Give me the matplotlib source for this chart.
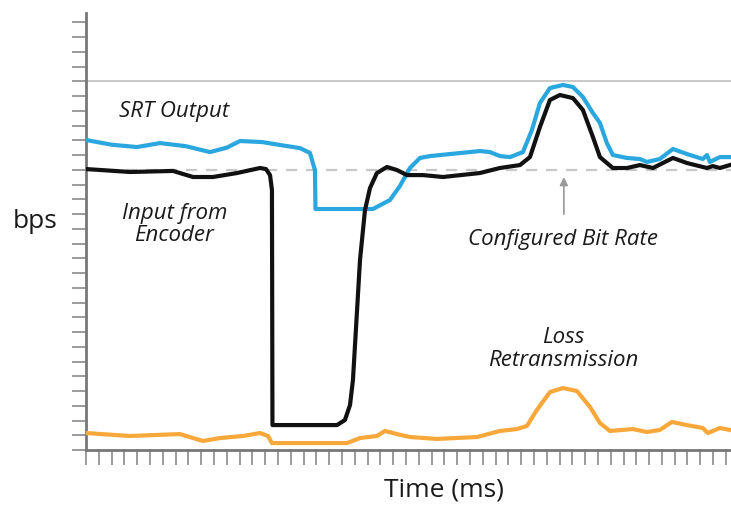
import matplotlib
matplotlib.use("Agg")
import matplotlib.pyplot as plt

plt.rcParams['font.family'] = ['Open Sans', 'DejaVu Sans']

# time axis (tick units) and bit rates (tick units)
srt_x = [0, 2.0, 3.98, 5.78, 7.8, 9.69, 11.0, 12.03, 13.75, 15.16, 16.72, 17.5, 17.89, 17.93,
         22.42, 23.75, 24.53, 25.31, 26.09, 26.88, 30.78, 31.56, 32.34, 33.13, 34.14, 34.84,
         35.47, 36.25, 37.27, 38.05, 38.83, 39.61, 40.16, 40.70, 41.17, 42.27, 43.28,
         43.83, 44.84, 45.86, 46.95, 48.2, 48.52, 48.75, 49.53, 50.31]
srt_y = [21.02, 20.7, 20.54, 20.81, 20.6, 20.20, 20.5, 20.95, 20.88, 20.68, 20.47, 20.14, 18.98,
         16.34, 16.34, 16.95, 17.90, 19.12, 19.80, 19.93, 20.27, 20.20, 19.93, 19.86, 20.20,
         21.69, 23.53, 24.54, 24.75, 24.61, 23.93, 22.85, 22.17, 20.81, 20.0, 19.80, 19.73,
         19.53, 19.73, 20.41, 20.07, 19.73, 20.0, 19.53, 19.86, 19.86]

enc_x = [0, 3.44, 6.8, 8.36, 9.92, 11.8, 13.59, 14.06, 14.38, 14.53, 14.57, 19.61,
         20.23, 20.63, 20.86, 21.41, 21.8, 22.19, 22.73, 23.52, 24.3, 25.08, 26.33,
         27.89, 30.78, 32.34, 33.91, 34.69, 35.47, 36.25, 37.03, 38.05, 38.83, 39.61,
         40.16, 40.70, 41.17, 42.27, 43.28, 44.3, 45.86, 46.95, 48.52, 48.98, 49.53, 50.31]
enc_y = [19.05, 18.85, 18.92, 18.51, 18.51, 18.78, 19.12, 19.05, 18.64, 17.63, 1.69, 1.69,
         2.03, 3.05, 4.75, 12.88, 16.27, 17.76, 18.78, 19.19, 18.98, 18.64, 18.64,
         18.51, 18.78, 19.12, 19.32, 19.86, 21.90, 23.73, 24.07, 23.86, 23.05, 21.22,
         19.86, 19.46, 19.12, 19.12, 19.32, 19.12, 19.80, 19.46, 19.12, 19.25, 19.12, 19.32]

loss_x = [0, 3.44, 7.34, 9.14, 10.47, 12.27, 13.59, 14.22, 14.53, 20.39, 21.41, 22.73,
          23.36, 24.30, 25.31, 27.42, 30.55, 32.34, 33.67, 34.45, 35.23, 36.25, 37.27,
          38.36, 39.38, 40.16, 40.94, 42.73, 43.83, 44.84, 45.78, 46.95, 48.2, 48.59,
          49.53, 50.31]
loss_y = [1.15, 0.95, 1.08, 0.61, 0.81, 0.95, 1.15, 0.95, 0.47, 0.47, 0.81, 0.95,
          1.29, 1.08, 0.88, 0.75, 0.88, 1.29, 1.42, 1.63, 2.71, 3.93, 4.20,
          4.0, 2.92, 1.83, 1.29, 1.42, 1.22, 1.36, 1.90, 1.69, 1.49, 1.15,
          1.49, 1.36]

configured_rate = 19.0
max_rate = 25.0
y_ticks = list(range(0, 30))
x_ticks = list(range(0, 51))

fig = plt.figure(figsize=(7.31, 5.05), dpi=100)
ax = fig.add_axes([86 / 731, 55 / 505, 645 / 731, 437 / 505])

ax.axhline(max_rate, color='#c8c8c8', lw=1.4, zorder=1)
ax.axhline(configured_rate, color='#c8c8c8', lw=1.6, ls=(0, (5, 4)), zorder=1)

ax.plot(srt_x, srt_y, color='#2aa7df', lw=3.0, solid_joinstyle='round', zorder=3)
ax.plot(enc_x, enc_y, color='#111111', lw=3.0, solid_joinstyle='round', zorder=4)
ax.plot(loss_x, loss_y, color='#f8a83a', lw=3.0, solid_joinstyle='round', zorder=3)

ax.annotate('', xy=(37.34, 18.7), xytext=(37.34, 15.8),
            arrowprops=dict(arrowstyle='-|>', color='#999999', lw=1.2, mutation_scale=12))

txt = dict(style='italic', fontsize=16, color='#1a1a1a', ha='center', va='center',
           linespacing=1.1)
ax.text(6.9, 22.98, 'SRT Output', **txt)
ax.text(6.9, 15.3, 'Input from\nEncoder', **txt)
ax.text(37.3, 14.3, 'Configured Bit Rate', **txt)
ax.text(37.3, 6.85, 'Loss\nRetransmission', **txt)

fig.text(35 / 731, 1 - 222 / 505, 'bps', fontsize=19, ha='center', va='center', color='#1a1a1a')
fig.text(444 / 731, 1 - 490 / 505, 'Time (ms)', fontsize=19, ha='center', va='center', color='#1a1a1a')

ax.set_xlim(0, 50.4)
ax.set_ylim(0, 29.63)
ax.set_xticks(x_ticks)
ax.set_yticks(y_ticks)
ax.set_xticklabels([])
ax.set_yticklabels([])
ax.tick_params(axis='both', direction='out', color='#8a8a8a', width=1.2)
ax.tick_params(axis='y', length=10)
ax.tick_params(axis='x', length=11)
for side in ['top', 'right']:
    ax.spines[side].set_visible(False)
for side in ['left', 'bottom']:
    ax.spines[side].set_color('#777777')
    ax.spines[side].set_linewidth(2)

fig.savefig('out.png', dpi=100)
